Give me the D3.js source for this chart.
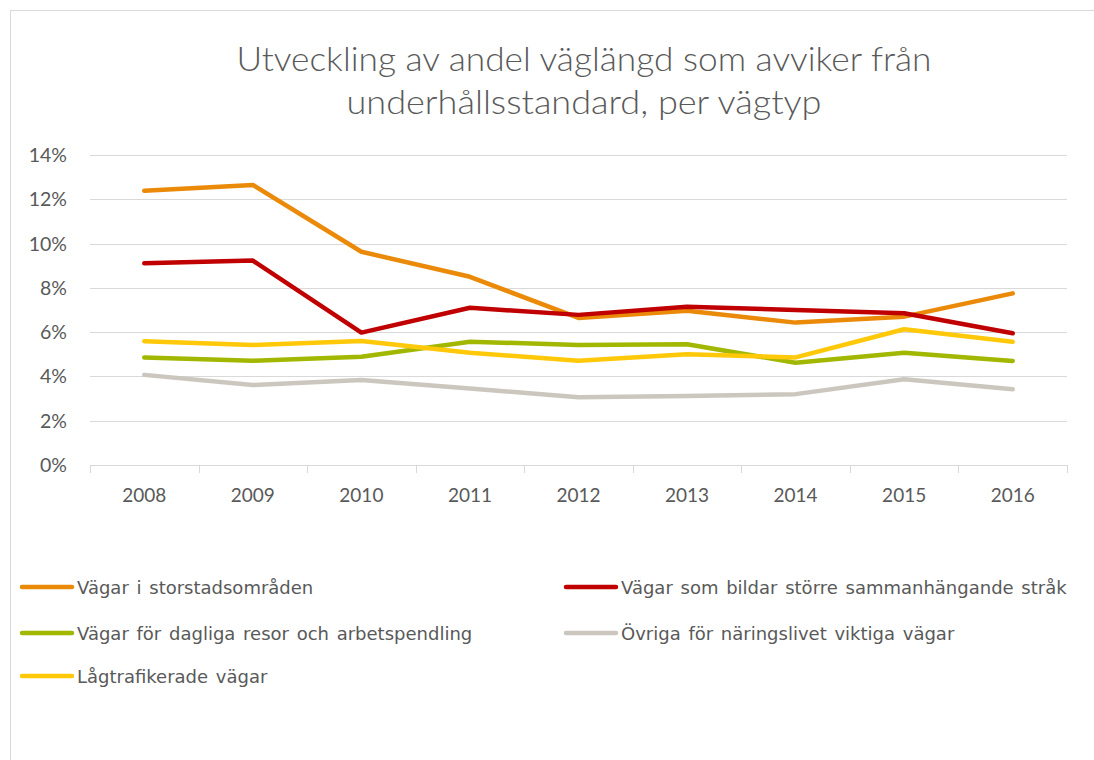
<!DOCTYPE html>
<html>
<head>
<meta charset="utf-8">
<script src="https://cdn.jsdelivr.net/npm/d3@7"></script>
<style>
  html, body { margin: 0; padding: 0; background: #fff; }
  svg { display: block; }
  text { fill: #595959; }
</style>
</head>
<body>
<svg id="canvas" width="1094" height="760"></svg>
<script>
const years = ["2008", "2009", "2010", "2011", "2012", "2013", "2014", "2015", "2016"]
const yTicks = [0, 2, 4, 6, 8, 10, 12, 14]

const storstad = [12.38, 12.65, 9.63, 8.5, 6.64, 6.97, 6.43, 6.7, 7.75]
const sammanhang = [9.11, 9.23, 5.98, 7.1, 6.78, 7.15, 7.0, 6.85, 5.95]
const dagliga = [4.85, 4.71, 4.89, 5.57, 5.42, 5.45, 4.62, 5.07, 4.7]
const ovriga = [4.07, 3.61, 3.84, 3.46, 3.06, 3.12, 3.2, 3.87, 3.42]
const lagtrafik = [5.59, 5.42, 5.6, 5.07, 4.71, 5.0, 4.86, 6.13, 5.57]

const seriesNames = [
  "Vägar i storstadsområden",
  "Vägar som bildar större sammanhängande stråk",
  "Vägar för dagliga resor och arbetspendling",
  "Övriga för näringslivet viktiga vägar",
  "Lågtrafikerade vägar"
]
const seriesColors = ["#EA8A08", "#C00000", "#A2B700", "#CBC7BF", "#FFC808"]
const seriesValues = [storstad, sammanhang, dagliga, ovriga, lagtrafik]

const series = seriesNames.map((name, i) => ({ name, color: seriesColors[i], values: seriesValues[i] }))
// draw the pale ones first so orange and red sit on top
const drawOrder = [3, 2, 4, 0, 1]

const svg = d3.select("#canvas")
const font = "Lato, 'Open Sans', sans-serif"

// chart border
svg.append("rect")
  .attr("x", 10.5).attr("y", 10.5)
  .attr("width", 1100).attr("height", 800)
  .attr("fill", "none").attr("stroke", "#d9d9d9").attr("stroke-width", 1)

// title
const title = svg.append("text")
  .attr("text-anchor", "middle")
  .style("font-family", font)
  .style("font-size", "34px")
  .style("font-weight", 300)
title.append("tspan").attr("x", 584).attr("y", 71)
  .attr("textLength", 695).attr("lengthAdjust", "spacingAndGlyphs")
  .text("Utveckling av andel väglängd som avviker från")
title.append("tspan").attr("x", 584).attr("y", 114)
  .attr("textLength", 475).attr("lengthAdjust", "spacingAndGlyphs")
  .text("underhållsstandard, per vägtyp")

const x = d3.scaleBand().domain(years).range([90, 1067])
const y = d3.scaleLinear().domain([0, 14]).range([465, 155])

// gridlines
svg.append("g")
  .selectAll("line")
  .data(yTicks)
  .join("line")
  .attr("x1", 90).attr("x2", 1067)
  .attr("y1", d => Math.round(y(d)) + 0.5)
  .attr("y2", d => Math.round(y(d)) + 0.5)
  .attr("stroke", "#d9d9d9").attr("stroke-width", 1)

// y labels
svg.append("g")
  .selectAll("text")
  .data(yTicks)
  .join("text")
  .attr("x", 67).attr("y", d => y(d) + 7)
  .attr("text-anchor", "end")
  .style("font-family", font)
  .style("font-size", "19.5px")
  .text(d => d + "%")

// x axis ticks between categories
const bounds = years.map(d => x(d)).concat([x.range()[1]])
svg.append("g")
  .selectAll("line")
  .data(bounds)
  .join("line")
  .attr("x1", d => Math.round(d) + 0.5).attr("x2", d => Math.round(d) + 0.5)
  .attr("y1", 465).attr("y2", 473)
  .attr("stroke", "#d9d9d9").attr("stroke-width", 1)

svg.append("g")
  .selectAll("text")
  .data(years)
  .join("text")
  .attr("x", d => x(d) + x.bandwidth() / 2)
  .attr("y", 502)
  .attr("text-anchor", "middle")
  .style("font-family", font)
  .style("font-size", "19px")
  .text(d => d)

// lines
const line = d3.line()
  .x((d, i) => x(years[i]) + x.bandwidth() / 2)
  .y(d => y(d))

svg.append("g")
  .selectAll("path")
  .data(drawOrder.map(i => series[i]))
  .join("path")
  .attr("d", d => line(d.values))
  .attr("fill", "none")
  .attr("stroke", d => d.color)
  .attr("stroke-width", 4.5)
  .attr("stroke-linejoin", "round")
  .attr("stroke-linecap", "round")

// legend
const legendPos = [
  { x: 22, y: 587 }, { x: 566, y: 587 },
  { x: 22, y: 633 }, { x: 566, y: 633 },
  { x: 22, y: 676 }
]
const legend = svg.append("g")
  .selectAll("g")
  .data(series)
  .join("g")
  .attr("transform", (d, i) => `translate(${legendPos[i].x},${legendPos[i].y})`)

legend.append("line")
  .attr("x1", 0).attr("x2", 50)
  .attr("y1", 0).attr("y2", 0)
  .attr("stroke", d => d.color)
  .attr("stroke-width", 4.5)
  .attr("stroke-linecap", "round")

legend.append("text")
  .attr("x", 55).attr("y", 6.5)
  .style("font-family", "'DejaVu Sans', Verdana, sans-serif")
  .style("font-size", "18px")
  .style("word-spacing", "2px")
  .text(d => d.name)
</script>
</body>
</html>
